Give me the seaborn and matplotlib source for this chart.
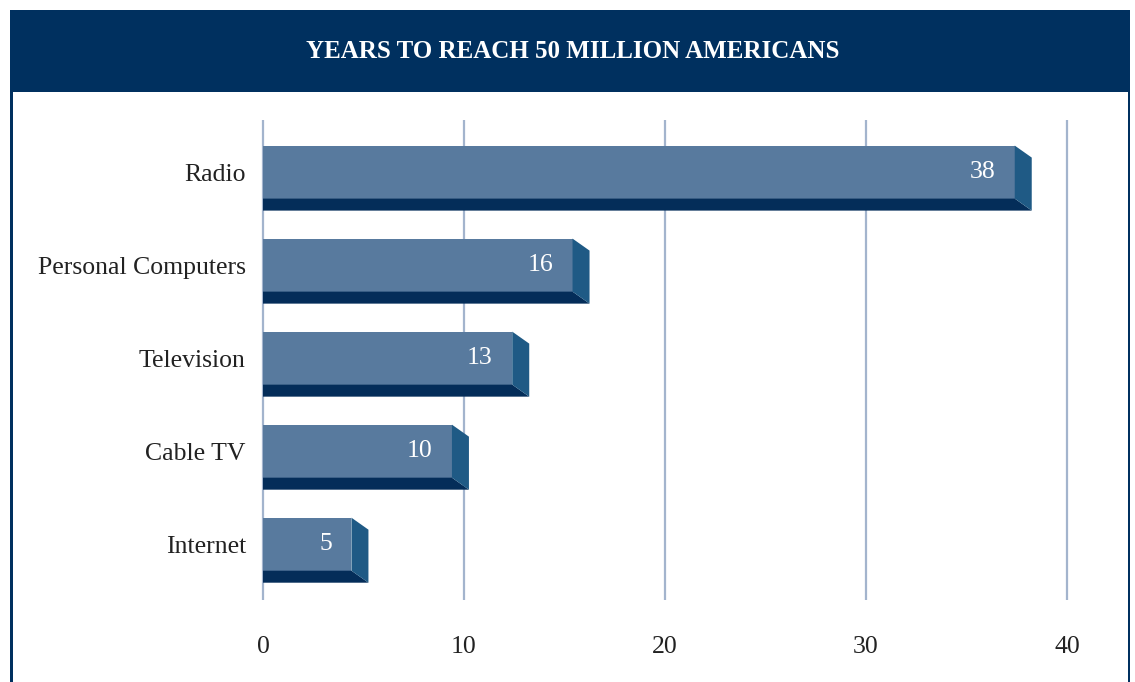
import matplotlib
matplotlib.use("Agg")
import matplotlib.pyplot as plt
import seaborn as sns
import pandas as pd
from matplotlib.patches import Polygon, Rectangle

categories = ["Radio", "Personal Computers", "Television", "Cable TV", "Internet"]
years = [38, 16, 13, 10, 5]
x_ticks = [0, 10, 20, 30, 40]
title = "YEARS TO REACH 50 MILLION AMERICANS"

FRONT = "#587a9e"
SIDE = "#1f5a85"
BOTTOM = "#042d59"
NAVY = "#00305f"
GRID = "#a3b4cd"

sns.set_theme(style="white")
plt.rcParams['font.family'] = ['Liberation Serif', 'DejaVu Serif']

W, H = 1135, 682
fig = plt.figure(figsize=(W / 100, H / 100), dpi=100)

def fx(px):
    return px / W

def fy(py):
    return 1 - py / H

# axes placement: x 0 -> 263px, 40 -> 1067px ; y top 120, bottom 600
ppu = (1067 - 263) / 40.0
xl0, xl1 = -0.3, 40.3
left_px = 263 + xl0 * ppu
right_px = 263 + xl1 * ppu
ax = fig.add_axes([fx(left_px), fy(600), fx(right_px - left_px), (600 - 120) / H])

df = pd.DataFrame({"category": categories, "years": years})
sns.barplot(data=df, y="category", x="years", orient="h", color=FRONT,
            width=0.57, saturation=1, ax=ax, zorder=3)

ax.set_xlim(xl0, xl1)
ax.set_ylim(4.6, -0.56)

upp_y = (4.6 + 0.56) / 480.0
dx = 17 / ppu
dy = 12 * upp_y
front_shift = 0.6

for p, v in zip(ax.patches, years):
    y0 = p.get_y()
    h = p.get_height()
    xe = v - front_shift
    p.set_width(xe)
    p.set_edgecolor("none")
    yb = y0 + h
    ax.add_patch(Polygon([(0, yb), (xe, yb), (xe + dx, yb + dy), (0, yb + dy)],
                         closed=True, facecolor=BOTTOM, edgecolor="none", zorder=3))
    ax.add_patch(Polygon([(xe, y0), (xe + dx, y0 + dy), (xe + dx, yb + dy), (xe, yb)],
                         closed=True, facecolor=SIDE, edgecolor="none", zorder=3))
    ax.annotate(str(v), xy=(xe, y0 + h / 2), xytext=(-14, 0), textcoords="offset points",
                ha="right", va="center", color="white", fontsize=18.5, zorder=5)

ax.set_xticks(x_ticks)
ax.set_xticklabels([str(t) for t in x_ticks])
ax.grid(axis="x", color=GRID, linewidth=1.6, zorder=0)
ax.grid(axis="y", visible=False)
ax.set_axisbelow(True)
for s in ax.spines.values():
    s.set_visible(False)
ax.tick_params(axis="x", length=0, pad=26, labelsize=18.5, labelcolor="#222222")
ax.tick_params(axis="y", length=0, pad=8, labelsize=18.5, labelcolor="#222222")
ax.set_xlabel("")
ax.set_ylabel("")
ax.set_facecolor("none")

fig.patches.append(Rectangle((fx(10), fy(92)), fx(1120), (92 - 10) / H,
                             transform=fig.transFigure, facecolor=NAVY, edgecolor="none", zorder=0))
fig.patches.append(Rectangle((fx(10), 0), fx(2.5), fy(92),
                             transform=fig.transFigure, facecolor=NAVY, edgecolor="none", zorder=0))
fig.patches.append(Rectangle((fx(1127.5), 0), fx(2.5), fy(92),
                             transform=fig.transFigure, facecolor=NAVY, edgecolor="none", zorder=0))
fig.text(fx(573), fy(52), title, ha="center", va="center", color="white",
         fontsize=18, fontweight="bold")

fig.savefig("out.png", dpi=100)
